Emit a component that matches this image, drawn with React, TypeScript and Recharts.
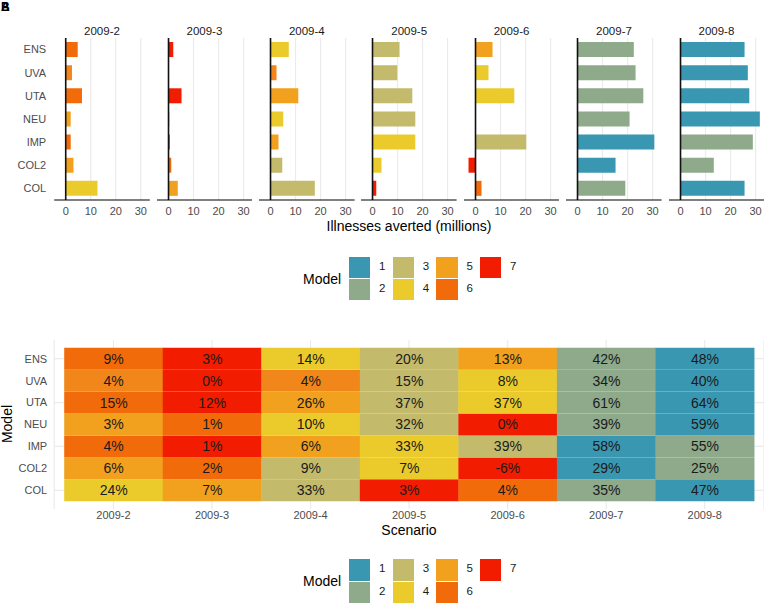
import React from 'react';
import { BarChart, Bar, XAxis, YAxis, CartesianGrid, ReferenceLine, Cell, LabelList } from 'recharts';

const models = ['ENS', 'UVA', 'UTA', 'NEU', 'IMP', 'COL2', 'COL'];
const scenarios = ['2009-2', '2009-3', '2009-4', '2009-5', '2009-6', '2009-7', '2009-8'];
const xTicks = [0, 10, 20, 30];
const rowTicks = [0.5, 1.5, 2.5, 3.5, 4.5, 5.5, 6.5];

// illnesses averted (millions), model order as above
const averted2 = [4.8, 2.5, 6.5, 2.0, 2.0, 3.1, 12.7];
const averted3 = [1.9, 0.1, 5.2, 0.3, 0.5, 1.1, 3.7];
const averted4 = [7.3, 2.4, 11.1, 5.1, 3.2, 4.7, 17.7];
const averted5 = [10.8, 9.9, 15.9, 17.1, 17.1, 3.6, 1.5];
const averted6 = [6.8, 5.2, 15.5, 0.1, 20.3, -2.8, 2.4];
const averted7 = [22.5, 23.2, 26.3, 20.8, 30.7, 15.2, 19.1];
const averted8 = [25.6, 26.9, 27.5, 31.7, 28.9, 13.3, 25.6];
const averted = [averted2, averted3, averted4, averted5, averted6, averted7, averted8];

// percent of illnesses averted
const pct2 = [9, 4, 15, 3, 4, 6, 24];
const pct3 = [3, 0, 12, 1, 1, 2, 7];
const pct4 = [14, 4, 26, 10, 6, 9, 33];
const pct5 = [20, 15, 37, 32, 33, 7, 3];
const pct6 = [13, 8, 37, 0, 39, -6, 4];
const pct7 = [42, 34, 61, 39, 58, 29, 35];
const pct8 = [48, 40, 64, 59, 55, 25, 47];
const pcts = [pct2, pct3, pct4, pct5, pct6, pct7, pct8];

// rank of the scenario within each model (ties shown as x.5)
const rank2 = [6, 5.5, 6, 5, 6, 5, 4];
const rank3 = [7, 7, 7, 6, 7, 6, 5];
const rank4 = [4, 5.5, 5, 4, 5, 3, 3];
const rank5 = [3, 3, 3, 3, 4, 4, 7];
const rank6 = [5, 4, 4, 7, 3, 7, 6];
const rank7 = [2, 2, 2, 2, 1, 1, 2];
const rank8 = [1, 1, 1, 1, 2, 2, 1];
const ranks = [rank2, rank3, rank4, rank5, rank6, rank7, rank8];

const legendKeys = ['1', '2', '3', '4', '5', '6', '7'];

const rankColor: Record<string, string> = {
  '1': '#3A97B1',
  '2': '#8FA98B',
  '3': '#C3BA6C',
  '4': '#EBCB2C',
  '5': '#F1A11E',
  '5.5': '#F1861A',
  '6': '#F26B0B',
  '7': '#F21C00',
};

const FONT = '"Liberation Sans", Arial, sans-serif';
const PANEL_LEFT = 54.2;
const PANEL_STEP = 102.4;
const PANEL_W = 95.6;

const Facet = ({ idx }: { idx: number }) => {
  const first = idx === 0;
  const data = models.map((m, i) => ({ model: m, value: averted[idx][i], rank: ranks[idx][i] }));
  const yW = first ? PANEL_LEFT : 0;
  const left = first ? 0 : PANEL_LEFT + idx * PANEL_STEP;
  return (
    <div style={{ position: 'absolute', left, top: 0 }}>
      <BarChart width={yW + PANEL_W} height={240} data={data} layout="vertical"
        margin={{ top: 38, right: 0, bottom: 0, left: 0 }}>
        <CartesianGrid horizontal={false} verticalValues={xTicks} stroke="#EBEBEB" strokeWidth={1.2} />
        <XAxis type="number" domain={[-4.6, 33.6]} ticks={xTicks} allowDataOverflow
          tickLine={false} tickSize={0} tickMargin={7} height={40}
          axisLine={{ stroke: '#000', strokeWidth: 1.2 }}
          tick={{ fontSize: 11, fill: '#4D4D4D' }} />
        <YAxis type="category" dataKey="model" hide={!first} width={yW}
          axisLine={false} tickLine={false} tickSize={0} tickMargin={8}
          tick={{ fontSize: 11, fill: '#4D4D4D' }} />
        <Bar dataKey="value" barSize={15} isAnimationActive={false}>
          {data.map((d, i) => <Cell key={i} fill={rankColor[String(d.rank)]} />)}
        </Bar>
        <ReferenceLine x={0} stroke="#111" strokeWidth={1.6} />
      </BarChart>
    </div>
  );
};

const ModelLegend = ({ top }: { top: number }) => (
  <>
    <div style={{ position: 'absolute', left: 303, top: top + 14, fontSize: 14, color: '#000' }}>Model</div>
    {legendKeys.map((k, i) => {
      const col = Math.floor(i / 2);
      const row = i % 2;
      const x = 349 + col * 43.7;
      const y = top + row * 22.2;
      return (
        <React.Fragment key={k}>
          <div style={{ position: 'absolute', left: x, top: y, width: 21.3, height: 21.3, background: rankColor[k] }} />
          <div style={{ position: 'absolute', left: x + 30, top: y + 3, fontSize: 11.5, color: '#1A1A1A' }}>{k}</div>
        </React.Fragment>
      );
    })}
  </>
);

const heatData = scenarios.map((s, j) => {
  const row: any = { scenario: s };
  models.forEach((m, i) => {
    row[m] = 1;
    row[m + '_label'] = pcts[j][i] + '%';
  });
  return row;
});

const Heatmap = () => (
  <div style={{ position: 'absolute', left: 0, top: 330 }}>
    <BarChart width={764} height={193} data={heatData} barCategoryGap={0}
      margin={{ top: 10, right: 0, bottom: 0, left: 0 }}>
      <CartesianGrid horizontalValues={rowTicks} stroke="#EBEBEB" strokeWidth={1.2} />
      <XAxis dataKey="scenario" padding={{ left: 10, right: 10 }} axisLine={false}
        tickLine={false} tickSize={0} tickMargin={2} height={14}
        tick={{ fontSize: 11, fill: '#4D4D4D' }} />
      <YAxis type="number" domain={[-0.35, 7.35]} allowDataOverflow
        ticks={rowTicks}
        tickFormatter={(v: number) => models[6 - Math.floor(v)]}
        width={PANEL_LEFT} axisLine={false} tickLine={false} tickSize={0} tickMargin={7}
        tick={{ fontSize: 11, fill: '#4D4D4D' }} />
      {[...models].reverse().map((m) => {
        const mi = models.indexOf(m);
        return (
          <Bar key={m} dataKey={m} stackId="a" isAnimationActive={false}>
            {scenarios.map((s, j) => (
              <Cell key={s} fill={rankColor[String(ranks[j][mi])]} />
            ))}
            <LabelList dataKey={m + '_label'} position="center" fill="#1A1A1A" fontSize={14} />
          </Bar>
        );
      })}
    </BarChart>
  </div>
);

export default function App() {
  return (
    <div style={{ position: 'absolute', left: 0, top: 0, width: 764, height: 605, background: '#fff', fontFamily: FONT, overflow: 'hidden' }}>
      <div style={{ position: 'absolute', left: 1, top: 0, fontSize: 12, fontWeight: 'bold' }}>A</div>
      <div style={{ position: 'absolute', left: 1, top: 0, fontSize: 12, fontWeight: 'bold' }}>B</div>
      {scenarios.map((s, i) => (
        <div key={s} style={{ position: 'absolute', left: PANEL_LEFT + i * PANEL_STEP, top: 25, width: PANEL_W, textAlign: 'center', fontSize: 11.5, color: '#1A1A1A' }}>{s}</div>
      ))}
      {scenarios.map((s, i) => <Facet key={s} idx={i} />)}
      <div style={{ position: 'absolute', left: 259, top: 218, width: 300, textAlign: 'center', fontSize: 14, color: '#000' }}>Illnesses averted (millions)</div>
      <ModelLegend top={256.7} />
      <Heatmap />
      <div style={{ position: 'absolute', left: 309, top: 522, width: 200, textAlign: 'center', fontSize: 14, color: '#000' }}>Scenario</div>
      <div style={{ position: 'absolute', left: -43, top: 416, width: 100, textAlign: 'center', fontSize: 14, color: '#000', transform: 'rotate(-90deg)' }}>Model</div>
      <ModelLegend top={559.3} />
    </div>
  );
}
